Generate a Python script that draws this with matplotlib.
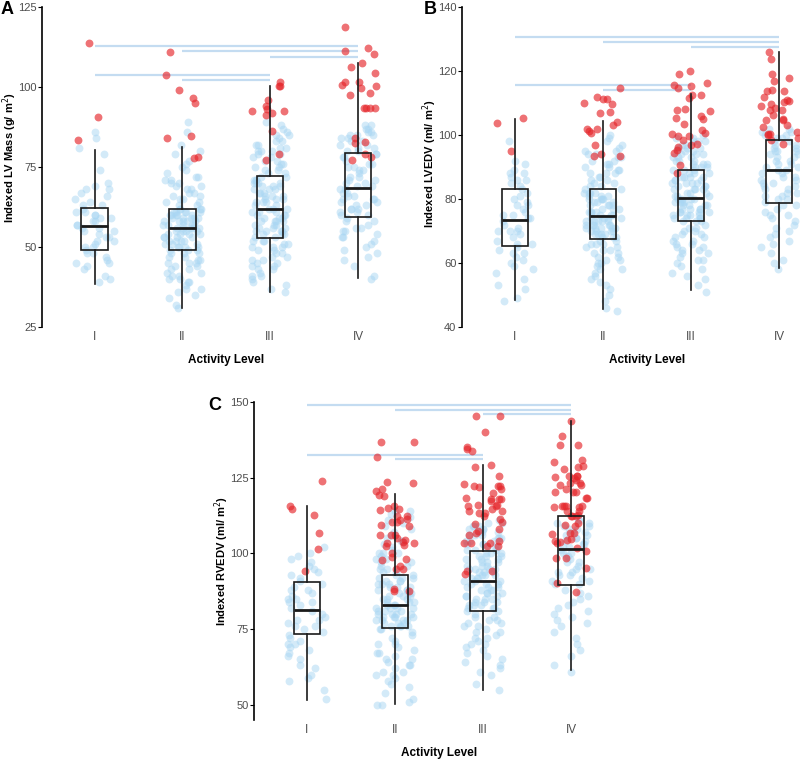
import numpy as np
import matplotlib
matplotlib.use('Agg')
import matplotlib.pyplot as plt

plt.rcParams['font.family'] = ['Liberation Sans', 'DejaVu Sans']

groups = ['I', 'II', 'III', 'IV']

''' panel A - indexed LV mass '''
a_box = {  # whislo, q1, med, q3, whishi
    'I': (38.3, 49.1, 56.7, 62.1, 80.4),
    'II': (30.8, 49.0, 55.9, 61.9, 81.2),
    'III': (35.8, 52.7, 61.9, 72.2, 100.3),
    'IV': (40.2, 59.4, 68.4, 79.3, 107.6),
}
a_blue = {
    'I': [39, 40, 41, 43, 44, 45, 45, 46, 47, 48, 48, 49, 50, 50, 51, 52, 52, 53, 54, 55, 55, 56, 56,
          57, 57, 58, 58, 59, 59, 60, 60, 61, 61, 62, 63, 63, 64, 65, 66, 67, 68, 68, 69, 70, 74, 79,
          81, 84, 86, 53],
    'II': [31, 32, 34, 35, 36, 37, 37, 38, 39, 39, 40, 40, 41, 41, 42, 42, 43, 43, 44, 44, 45, 45, 45,
           46, 46, 47, 47, 48, 48, 48, 49, 49, 49, 50, 50, 50, 51, 51, 51, 52, 52, 52, 53, 53, 53, 53,
           54, 54, 54, 54, 55, 55, 55, 55, 56, 56, 56, 56, 50, 52, 56, 57, 57, 57, 57, 58, 58, 58, 58,
           59, 59, 59, 59, 60, 60, 60, 60, 61, 61, 61, 61, 62, 62, 62, 57, 58, 59, 60, 61, 62, 63, 63,
           64, 64, 65, 65, 66, 66, 67, 67, 68, 68, 69, 69, 70, 70, 71, 71, 72, 72, 73, 74, 75, 76, 77,
           79, 80, 82, 86, 89],
    'III': [36, 37, 38, 39, 40, 41, 41, 42, 43, 43, 44, 44, 45, 45, 46, 46, 47, 47, 48, 48, 49, 49, 50,
            50, 50, 51, 51, 52, 52, 52, 53, 53, 54, 54, 54, 55, 55, 55, 56, 56, 56, 57, 57, 57, 58, 58,
            58, 59, 59, 59, 60, 60, 60, 61, 61, 61, 62, 62, 55, 58, 62, 63, 63, 64, 64, 65, 65, 65, 66,
            66, 67, 67, 67, 68, 68, 69, 69, 69, 70, 70, 70, 71, 71, 71, 72, 72, 64, 66, 68, 70, 73, 73,
            74, 74, 75, 75, 76, 76, 77, 77, 78, 78, 79, 79, 80, 80, 81, 81, 82, 82, 83, 83, 84, 85, 86,
            87, 88, 89, 85, 80],
    'IV': [40, 41, 44, 46, 47, 48, 49, 50, 51, 52, 53, 53, 54, 55, 55, 56, 56, 57, 58, 58, 59, 60, 60,
           61, 61, 62, 62, 63, 63, 64, 64, 65, 65, 66, 66, 67, 67, 68, 62, 65, 68, 69, 69, 70, 70, 71,
           72, 72, 73, 74, 74, 75, 76, 76, 77, 78, 78, 79, 71, 75, 79, 80, 80, 81, 81, 82, 83, 83, 84,
           84, 85, 85, 86, 86, 87, 87, 88, 88, 82, 85],
}
a_red = {
    'I': [113.8, 90.7, 83.3],
    'II': [110.8, 103.7, 99.1, 96.7, 94.9, 84.8, 84.0, 78.1, 77.8],
    'III': [101.5, 100.2, 100.4, 96.0, 94.2, 93.0, 92.5, 92.5, 91.9, 91.4, 86.4, 79.1, 77.3],
    'IV': [118.6, 112.3, 111.1, 110.3, 107.6, 106.1, 104.5, 101.7, 101.7, 100.6, 100.2, 99.6, 98.2,
           97.4, 93.3, 93.5, 93.5, 93.5, 84.1, 82.5, 82.8, 78.0, 77.3, 79.2],
}
a_sig = [('I', 'IV', 112.7), ('II', 'IV', 111.1), ('III', 'IV', 109.5),
         ('I', 'III', 103.9), ('II', 'III', 102.3)]

''' panel B - indexed LVEDV '''
b_box = {
    'I': (48.3, 65.2, 73.5, 83.0, 105.1),
    'II': (45.7, 67.5, 74.6, 83.0, 104.4),
    'III': (51.7, 73.0, 80.2, 89.2, 112.7),
    'IV': (58.4, 78.8, 89.0, 98.5, 125.9),
}
b_blue = {
    'I': [48, 49, 52, 53, 55, 57, 58, 59, 60, 61, 62, 63, 64, 65, 66, 66, 67, 68, 69, 70, 70, 71, 72,
          73, 74, 75, 75, 76, 77, 78, 79, 80, 81, 82, 83, 84, 85, 86, 87, 88, 88, 89, 91, 92, 98, 74,
          70, 78, 86, 63],
    'II': [45, 46, 48, 50, 52, 53, 54, 55, 56, 57, 58, 58, 59, 60, 60, 61, 61, 62, 62, 63, 63, 64, 64,
           65, 65, 66, 66, 66, 67, 67, 68, 68, 68, 69, 69, 69, 70, 70, 70, 70, 71, 71, 71, 71, 72, 72,
           72, 72, 73, 73, 73, 73, 74, 74, 74, 74, 69, 71, 72, 73, 75, 75, 75, 76, 76, 76, 77, 77, 77,
           78, 78, 78, 79, 79, 79, 80, 80, 80, 81, 81, 81, 82, 82, 82, 83, 83, 76, 78, 80, 82, 84, 84,
           85, 85, 86, 86, 87, 87, 88, 88, 89, 89, 90, 90, 91, 91, 92, 92, 93, 93, 94, 94, 95, 95, 96,
           97, 98, 99, 100, 88],
    'III': [51, 53, 55, 56, 57, 58, 59, 60, 61, 61, 62, 63, 63, 64, 64, 65, 65, 66, 66, 67, 67, 68, 68,
            69, 69, 70, 70, 71, 71, 72, 73, 73, 73, 74, 74, 74, 75, 75, 75, 76, 76, 76, 77, 77, 77, 78,
            78, 78, 79, 79, 79, 80, 80, 74, 75, 76, 77, 78, 79, 80, 80, 81, 81, 82, 82, 83, 83, 83, 84,
            84, 85, 85, 85, 86, 86, 87, 87, 87, 88, 88, 89, 89, 82, 84, 86, 88, 81, 83, 85, 87, 89, 90,
            90, 91, 91, 92, 92, 93, 93, 94, 94, 95, 95, 96, 96, 97, 97, 98, 98, 99, 99, 100, 90, 92, 94,
            96, 98, 91, 93, 95],
    'IV': [58, 60, 61, 63, 65, 66, 67, 68, 69, 70, 71, 72, 73, 74, 75, 75, 76, 77, 78, 78, 79, 80, 80,
           81, 82, 82, 83, 84, 84, 85, 85, 86, 86, 87, 87, 88, 88, 89, 81, 83, 89, 90, 90, 91, 92, 92,
           93, 94, 94, 95, 95, 96, 96, 97, 97, 98, 98, 91, 93, 95, 99, 100, 101, 102, 99, 100, 101, 102],
}
b_red = {
    'I': [105.3, 103.9, 95.0],
    'II': [114.6, 111.2, 111.9, 111.4, 110.0, 109.8, 107.2, 107.0, 104.2, 103.2, 101.8, 102.0, 101.2,
           100.5, 97.0, 94.1, 93.4, 93.5],
    'III': [119.0, 120.0, 116.3, 115.5, 114.8, 115.2, 112.4, 112.6, 111.6, 107.7, 108.0, 107.5, 106.0,
            105.4, 105.1, 103.5, 101.7, 100.4, 100.6, 99.7, 99.6, 97.1, 96.8, 96.3, 95.2, 98.3, 94.4,
            90.7, 88.2],
    'IV': [125.9, 123.9, 119.0, 117.9, 116.9, 114.2, 113.6, 113.7, 111.9, 110.8, 110.5, 109.8, 110.3,
           109.0, 108.5, 107.9, 107.9, 106.1, 105.1, 104.6, 104.6, 103.2, 102.5, 101.0, 99.9, 100.4,
           100.4, 99.1, 98.3, 97.3],
}
b_sig = [('I', 'IV', 130.6), ('II', 'IV', 129.0), ('III', 'IV', 127.6),
         ('I', 'III', 115.5), ('II', 'III', 114.0)]

''' panel C - indexed RVEDV '''
c_box = {
    'I': (51.5, 73.5, 81.2, 90.6, 115.6),
    'II': (50.3, 75.3, 83.0, 92.9, 119.7),
    'III': (54.8, 81.1, 91.0, 100.7, 129.3),
    'IV': (61.4, 89.7, 101.3, 112.3, 143.6),
}
c_blue = {
    'I': [52, 55, 58, 59, 60, 62, 63, 65, 66, 67, 68, 69, 70, 71, 72, 73, 74, 75, 76, 76, 77, 78, 79,
          80, 81, 82, 83, 84, 85, 85, 86, 87, 88, 89, 90, 91, 92, 93, 94, 95, 96, 97, 98, 99, 100, 102,
          78, 84, 88, 70],
    'II': [50, 50, 51, 52, 54, 56, 57, 58, 59, 60, 60, 61, 61, 62, 63, 63, 64, 65, 65, 66, 67, 67, 68,
           69, 70, 70, 71, 72, 73, 74, 75, 75, 76, 76, 76, 77, 77, 77, 78, 78, 78, 79, 79, 79, 80, 80,
           80, 81, 81, 81, 82, 82, 82, 83, 83, 76, 78, 80, 82, 79, 83, 84, 84, 85, 85, 86, 86, 87, 87,
           88, 88, 89, 89, 90, 90, 91, 91, 92, 92, 93, 84, 86, 88, 90, 92, 85, 87, 89, 91, 93, 94, 94,
           95, 95, 96, 96, 97, 97, 98, 98, 99, 100, 100, 101, 102, 103, 104, 105, 106, 107, 108, 109,
           110, 111, 112, 113, 114, 114, 104, 100],
    'III': [55, 57, 60, 61, 62, 63, 64, 65, 66, 67, 68, 69, 70, 70, 71, 72, 72, 73, 74, 74, 75, 76, 76,
            77, 77, 78, 78, 79, 79, 80, 81, 81, 82, 82, 83, 83, 84, 84, 85, 85, 86, 86, 87, 87, 88, 88,
            89, 89, 90, 90, 82, 84, 86, 88, 90, 83, 85, 87, 89, 91, 91, 92, 92, 93, 93, 94, 94, 95, 95,
            96, 96, 97, 97, 98, 98, 99, 99, 100, 100, 92, 94, 96, 98, 100, 93, 95, 97, 99, 91, 95, 101,
            101, 102, 102, 103, 103, 104, 104, 105, 105, 106, 106, 107, 107, 108, 108, 109, 109, 110,
            111, 102, 104, 106, 108, 110, 101, 103, 105, 107, 109],
    'IV': [61, 63, 66, 68, 70, 72, 74, 76, 77, 78, 79, 80, 81, 82, 83, 84, 85, 86, 87, 88, 90, 90, 91,
           91, 92, 93, 93, 94, 95, 95, 96, 97, 97, 98, 99, 99, 100, 100, 101, 94, 102, 102, 103, 104,
           104, 105, 106, 106, 107, 108, 108, 109, 110, 110, 111, 103, 105, 107, 109, 111],
}
c_red = {
    'I': [124.0, 115.6, 114.8, 112.8, 106.8, 101.5, 94.3],
    'II': [136.7, 136.9, 131.8, 123.5, 123.3, 120.7, 121.4, 118.9, 119.2, 115.6, 114.5, 114.9, 114.2,
           112.3, 111.5, 112.2, 109.5, 110.4, 110.9, 110.3, 109.0, 106.2, 106.2, 106.0, 105.1, 104.3,
           102.9, 102.4, 103.5, 103.7, 100.2, 98.7, 98.2, 97.7, 96.0, 94.9, 94.7, 87.5, 88.4, 87.7,
           103.5],
    'III': [140.1, 145.5, 145.3, 135.0, 133.9, 134.5, 129.3, 128.4, 125.7, 122.2, 122.2, 122.2, 122.9,
            121.8, 121.1, 120.0, 118.3, 117.8, 118.0, 117.8, 117.2, 116.1, 115.6, 116.1, 115.6, 114.5,
            113.9, 113.4, 113.9, 113.4, 112.3, 111.4, 109.8, 110.3, 108.1, 107.3, 106.8, 106.0, 104.0,
            103.5, 103.5, 102.4, 102.4, 103.5, 94.1, 93.3, 94.1],
    'IV': [138.9, 143.8, 135.9, 135.7, 130.2, 131.0, 128.8, 128.5, 127.9, 125.7, 125.1, 125.7, 124.9,
           124.4, 125.7, 122.7, 123.3, 123.3, 122.7, 121.1, 120.3, 120.3, 120.2, 118.3, 118.3, 115.2,
           115.6, 115.6, 115.2, 115.8, 115.8, 112.3, 112.3, 113.9, 112.3, 112.8, 113.9, 110.1, 109.3,
           109.2, 106.8, 106.8, 106.5, 104.6, 103.7, 104.3, 104.0, 101.8, 100.7, 98.5, 98.5, 87.2,
           90.3, 95.2, 103.5],
}
c_sig = [('I', 'IV', 149.1), ('II', 'IV', 147.5), ('III', 'IV', 145.9),
         ('I', 'III', 132.6), ('II', 'III', 131.1)]

blue = '#a8d6f3'
red = '#e5262b'
sig_color = '#c4dcf1'
rng = np.random.default_rng(7)    # jitter only


def draw_panel(ax, box, blue_pts, red_pts, sig, ylim, yticks, ylabel, label_y):
    for i, g in enumerate(groups):
        pos = i + 1
        xb = pos + rng.uniform(-0.22, 0.22, len(blue_pts[g]))
        ax.scatter(xb, blue_pts[g], s=32, color=blue, alpha=0.5, linewidths=0, zorder=2)
        xr = pos + rng.uniform(-0.22, 0.22, len(red_pts[g]))
        ax.scatter(xr, red_pts[g], s=32, color=red, alpha=0.65, linewidths=0, zorder=3)

    stats = []
    for g in groups:
        lo, q1, med, q3, hi = box[g]
        stats.append({'whislo': lo, 'q1': q1, 'med': med, 'q3': q3, 'whishi': hi, 'fliers': []})
    ax.bxp(stats, positions=range(1, 5), widths=0.3, showfliers=False, showcaps=False,
           patch_artist=True,
           boxprops=dict(facecolor='none', edgecolor='#1a1a1a', linewidth=1.2),
           medianprops=dict(color='#1a1a1a', linewidth=2),
           whiskerprops=dict(color='#1a1a1a', linewidth=1.2),
           manage_ticks=False, zorder=4)

    for g1, g2, yv in sig:
        ax.plot([groups.index(g1) + 1, groups.index(g2) + 1], [yv, yv], color=sig_color,
                linewidth=1.6, solid_capstyle='butt', zorder=1)

    ax.set_xlim(0.4, 4.6)
    ax.set_ylim(*ylim)
    ax.set_yticks(yticks)
    ax.set_xticks(range(1, 5))
    ax.set_xticklabels(groups)
    for s in ['top', 'right', 'bottom']:
        ax.spines[s].set_visible(False)
    ax.spines['left'].set_linewidth(1.2)
    ax.tick_params(axis='y', length=3, width=0.8, labelsize=8, labelcolor='#4d4d4d', pad=1)
    ax.tick_params(axis='x', length=0, labelsize=8.5, labelcolor='#4d4d4d', pad=3)
    ax.set_xlabel('Activity Level', fontweight='bold', fontsize=8.5, labelpad=8)
    ax.set_ylabel(ylabel, fontweight='bold', fontsize=8)
    ax.yaxis.set_label_coords(-0.062, label_y)


fig = plt.figure(figsize=(8, 7.59), dpi=100)

axA = fig.add_axes([0.0525, 0.5692, 0.4608, 0.4216])
draw_panel(axA, a_box, a_blue, a_red, a_sig, (25, 125), [25, 50, 75, 100, 125],
           'Indexed LV Mass (g/ m$^2$)', 0.53)

axB = fig.add_axes([0.5775, 0.5692, 0.4625, 0.4216])
draw_panel(axB, b_box, b_blue, b_red, b_sig, (40, 140), [40, 60, 80, 100, 120, 140],
           'Indexed LVEDV (ml/ m$^2$)', 0.51)

axC = fig.add_axes([0.3175, 0.0514, 0.4625, 0.419])
draw_panel(axC, c_box, c_blue, c_red, c_sig, (45, 150), [50, 75, 100, 125, 150],
           'Indexed RVEDV (ml/ m$^2$)', 0.50)

# panel letters
fig.text(7 / 800, 1 - 9 / 759, 'A', fontweight='bold', fontsize=13, ha='center', va='center')
fig.text(430 / 800, 1 - 9 / 759, 'B', fontweight='bold', fontsize=13, ha='center', va='center')
fig.text(215 / 800, 1 - 405 / 759, 'C', fontweight='bold', fontsize=13, ha='center', va='center')

fig.savefig('out.png', dpi=100)
